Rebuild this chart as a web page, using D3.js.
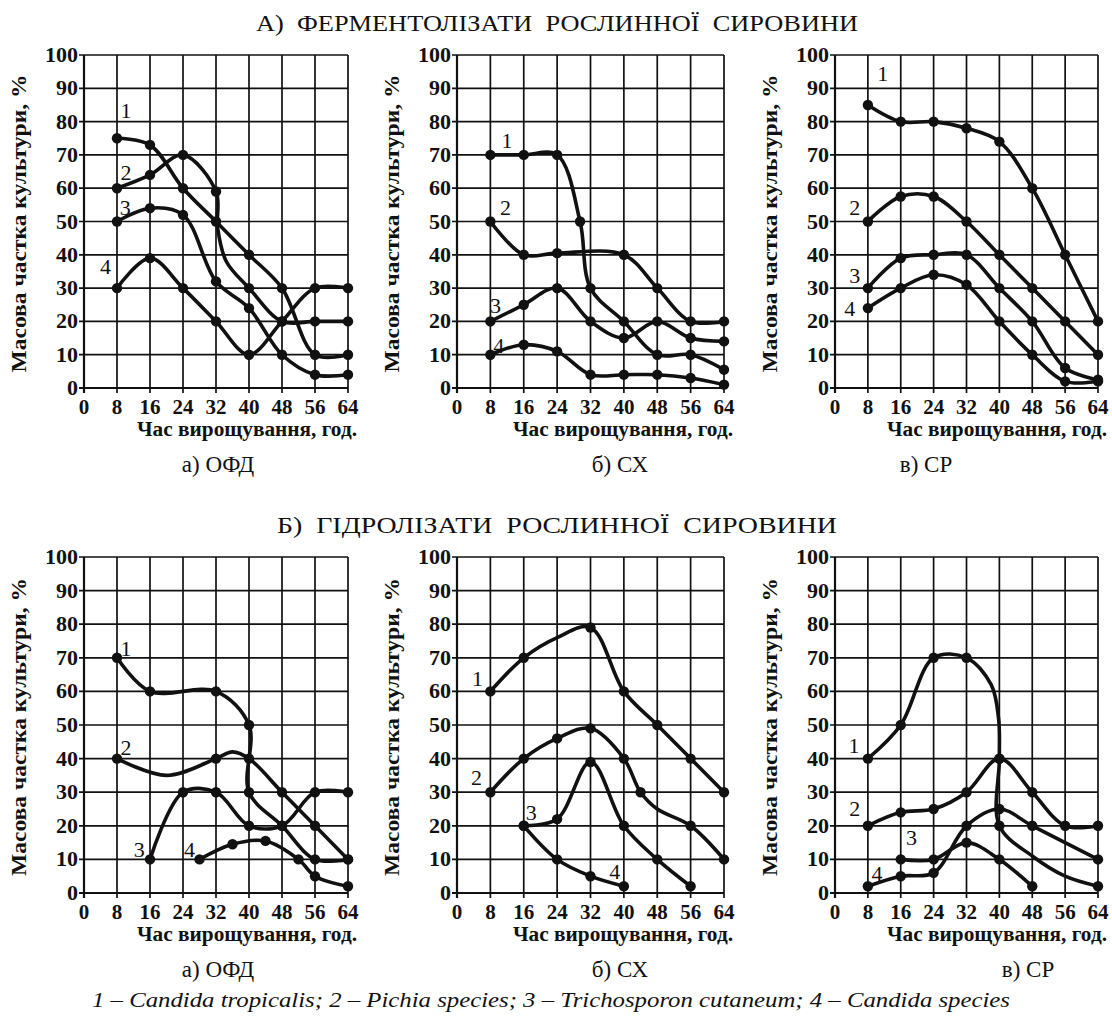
<!DOCTYPE html>
<meta charset="utf-8">
<script src="https://d3js.org/d3.v7.min.js"></script>
<style>
  body { margin: 0; background: #fff; }
  svg text { font-family: "Liberation Serif", Tinos, "Times New Roman", Times, serif; fill: #111; }
</style>
<body>
<div id="chart"></div>
<script>

// axis ticks
const hourTicks = [0, 8, 16, 24, 32, 40, 48, 56, 64];
const pctTicks = [0, 10, 20, 30, 40, 50, 60, 70, 80, 90, 100];

// series points: [hour, %]  (third value 0 = no marker drawn)
// А) ферментолізати, ОФД
const fermOFD = [
  [[8,75],[16,73],[24,60],[32,50],[40,40],[48,30],[56,10],[64,10]],
  [[8,60],[16,64],[24,70],[32,59],[32.4,48,0],[34.5,38,0],[40,30],[48,20],[56,20],[64,20]],
  [[8,50],[16,54],[24,52],[32,32],[40,24],[48,10],[56,4],[64,4]],
  [[8,30],[16,39],[24,30],[32,20],[40,10],[48,20],[56,30],[64,30]]
];
// А) СХ
const fermCX = [
  [[8,70],[16,70],[24,70],[29.5,50],[32,30],[40,20],[48,10],[56,10],[64,5.5]],
  [[8,50],[16,40],[24,40.5],[40,40],[48,30],[56,20],[64,20]],
  [[8,20],[16,25],[24,30],[32,20],[40,15],[48,20],[56,15],[64,14]],
  [[8,10],[16,13],[24,11],[32,4],[40,4],[48,4],[56,3],[64,1]]
];
// А) СР
const fermCP = [
  [[8,85],[16,80],[24,80],[32,78],[40,74],[48,60],[56,40],[64,20]],
  [[8,50],[16,57.5],[24,57.5],[32,50],[40,40],[48,30],[56,20],[64,10]],
  [[8,30],[16,39],[24,40],[32,40],[40,30],[48,20],[56,6],[64,2.5]],
  [[8,24],[16,30],[24,34],[32,31],[40,20],[48,10],[56,2],[64,2]]
];
// Б) гідролізати, ОФД
const hydrOFD = [
  [[8,70],[16,60],[32,60],[40,50],[40,30],[48,20],[56,10],[64,10]],
  [[8,40],[20,35,0],[32,40],[36,42,0],[40,40],[48,30],[56,20],[64,10]],
  [[16,10],[24,30],[32,30],[40,20],[48,20],[56,30],[64,30]],
  [[28,10],[36,14.5],[44,15.5],[52,10],[56,5],[64,2]]
];
// Б) СХ
const hydrCX = [
  [[8,60],[16,70],[24,76,0],[32,79],[40,60],[48,50],[56,40],[64,30]],
  [[8,30],[16,40],[24,46],[32,49],[40,40],[44,30],[48,25,0],[56,20],[64,10]],
  [[16,20],[24,22],[32,39],[40,20],[48,10],[56,2]],
  [[16,20],[24,10],[32,5],[40,2]]
];
// Б) СР
const hydrCP = [
  [[8,40],[16,50],[24,70],[32,70],[38,62,0],[39.8,52,0],[40,40],[40,20],[48,11,0],[56,5,0],[64,2]],
  [[8,20],[16,24],[24,25],[32,30],[40,40],[48,30],[56,20],[64,20]],
  [[16,10],[24,10],[32,15],[40,10],[48,2]],
  [[8,2],[16,5],[24,6],[32,20],[40,25],[48,20],[64,10]]
];

// curve number labels [hour, %] for curves 1..4
const labFermOFD = [[10.2,83.5],[10.2,65],[10,54.5],[5.2,36.5]];
const labFermCX  = [[12,74.5],[11.6,54.5],[9.2,25],[10,13]];
const labFermCP  = [[11.6,94.5],[4.8,54.5],[4.8,34],[3.6,24]];
const labHydrOFD = [[10.2,73],[10.2,43.5],[13.4,13],[25.6,13]];
const labHydrCX  = [[4.9,64],[4.7,34.6],[17.8,24.2],[37.8,6.4]];
const labHydrCP  = [[4.6,44],[4.8,25.2],[18.6,16.8],[10.2,5.9]];

const groupTitles = ["А)  ФЕРМЕНТОЛІЗАТИ  РОСЛИННОЇ  СИРОВИНИ", "Б)  ГІДРОЛІЗАТИ  РОСЛИННОЇ  СИРОВИНИ"];
const subTitles = ["а) ОФД", "б) СХ", "в) СР"];
const yTitle = "Масова частка культури, %";
const xTitle = "Час вирощування, год.";
const legendText = "1 – Candida tropicalis; 2 – Pichia species; 3 – Trichosporon cutaneum; 4 – Candida species";

const panels = [
  {row: 0, col: 0, data: fermOFD, labels: labFermOFD},
  {row: 0, col: 1, data: fermCX,  labels: labFermCX},
  {row: 0, col: 2, data: fermCP,  labels: labFermCP},
  {row: 1, col: 0, data: hydrOFD, labels: labHydrOFD},
  {row: 1, col: 1, data: hydrCX,  labels: labHydrCX},
  {row: 1, col: 2, data: hydrCP,  labels: labHydrCP}
];

// layout
const W = 1112, H = 1021;
const colX = [[84, 348], [457, 724], [835, 1098]];
const rowY = [[388, 55], [893, 557]];
const subCx = [[218, 620, 926], [218, 620, 1028]];
const serif = "'Liberation Serif', Tinos, 'Times New Roman', Times, serif";

const svg = d3.select("#chart").append("svg")
  .attr("width", W).attr("height", H)
  .attr("font-family", serif)
  .style("font-family", serif);

// group titles
svg.selectAll(".gtitle").data(groupTitles).join("text")
  .attr("x", 557).attr("y", (d, i) => i === 0 ? 31 : 533)
  .attr("text-anchor", "middle")
  .attr("font-size", 24)
  .attr("textLength", (d, i) => i === 0 ? 602 : 560)
  .attr("lengthAdjust", "spacingAndGlyphs")
  .style("white-space", "pre")
  .text(d => d);

const line = d3.line().curve(d3.curveCatmullRom.alpha(0.5));

panels.forEach(p => {
  const x = d3.scaleLinear().domain([0, 64]).range(colX[p.col]);
  const y = d3.scaleLinear().domain([0, 100]).range(rowY[p.row]);
  const g = svg.append("g");

  // grid
  g.selectAll(".hg").data(pctTicks).join("line")
    .attr("x1", x(0) - 5).attr("x2", x(64))
    .attr("y1", d => y(d)).attr("y2", d => y(d))
    .attr("stroke", "#111").attr("stroke-width", 1.7);
  g.selectAll(".vg").data(hourTicks).join("line")
    .attr("x1", d => x(d)).attr("x2", d => x(d))
    .attr("y1", y(0) + 5).attr("y2", y(100))
    .attr("stroke", "#111").attr("stroke-width", 1.7);
  // axes
  g.append("line").attr("x1", x(0)).attr("x2", x(0)).attr("y1", y(0) + 5).attr("y2", y(100))
    .attr("stroke", "#111").attr("stroke-width", 2.2);
  g.append("line").attr("x1", x(0) - 5).attr("x2", x(64)).attr("y1", y(0)).attr("y2", y(0))
    .attr("stroke", "#111").attr("stroke-width", 2.2);

  // tick labels
  g.selectAll(".yl").data(pctTicks).join("text")
    .attr("x", x(0) - 6).attr("y", d => y(d) + 7)
    .attr("text-anchor", "end").attr("font-size", 22).attr("font-weight", "bold")
    .text(d => d);
  g.selectAll(".xl").data(hourTicks).join("text")
    .attr("x", d => x(d)).attr("y", y(0) + 26)
    .attr("text-anchor", "middle").attr("font-size", 21).attr("font-weight", "bold")
    .text(d => d);

  // axis titles
  g.append("text")
    .attr("transform", `translate(${x(0) - 58},${(y(0) + y(100)) / 2 + 2}) rotate(-90)`)
    .attr("text-anchor", "middle").attr("font-size", 21).attr("font-weight", "bold")
    .attr("textLength", 298).attr("lengthAdjust", "spacingAndGlyphs")
    .text(yTitle);
  g.append("text")
    .attr("x", x(64) + 9).attr("y", y(0) + 48)
    .attr("text-anchor", "end").attr("font-size", 20).attr("font-weight", "bold")
    .attr("textLength", 220).attr("lengthAdjust", "spacingAndGlyphs")
    .text(xTitle);
  g.append("text")
    .attr("x", subCx[p.row][p.col]).attr("y", y(0) + 84)
    .attr("text-anchor", "middle").attr("font-size", 23)
    .text(subTitles[p.col]);

  // curves
  g.selectAll(".curve").data(p.data).join("path")
    .attr("d", s => line(s.map(d => [x(d[0]), y(d[1])])))
    .attr("fill", "none").attr("stroke", "#111").attr("stroke-width", 3.6)
    .attr("stroke-linejoin", "round");
  g.selectAll(".dot").data(p.data.flat().filter(d => d[2] !== 0)).join("circle")
    .attr("cx", d => x(d[0])).attr("cy", d => y(d[1])).attr("r", 5.2)
    .attr("fill", "#111");

  // curve numbers
  g.selectAll(".num").data(p.labels).join("text")
    .attr("x", d => x(d[0])).attr("y", d => y(d[1]) + 8)
    .attr("text-anchor", "middle").attr("font-size", 22)
    .text((d, i) => i + 1);
});

// legend
svg.append("text")
  .attr("x", 551).attr("y", 1007)
  .attr("text-anchor", "middle").attr("font-size", 22).attr("font-style", "italic")
  .attr("textLength", 918).attr("lengthAdjust", "spacingAndGlyphs")
  .text(legendText);

</script>
</body>
